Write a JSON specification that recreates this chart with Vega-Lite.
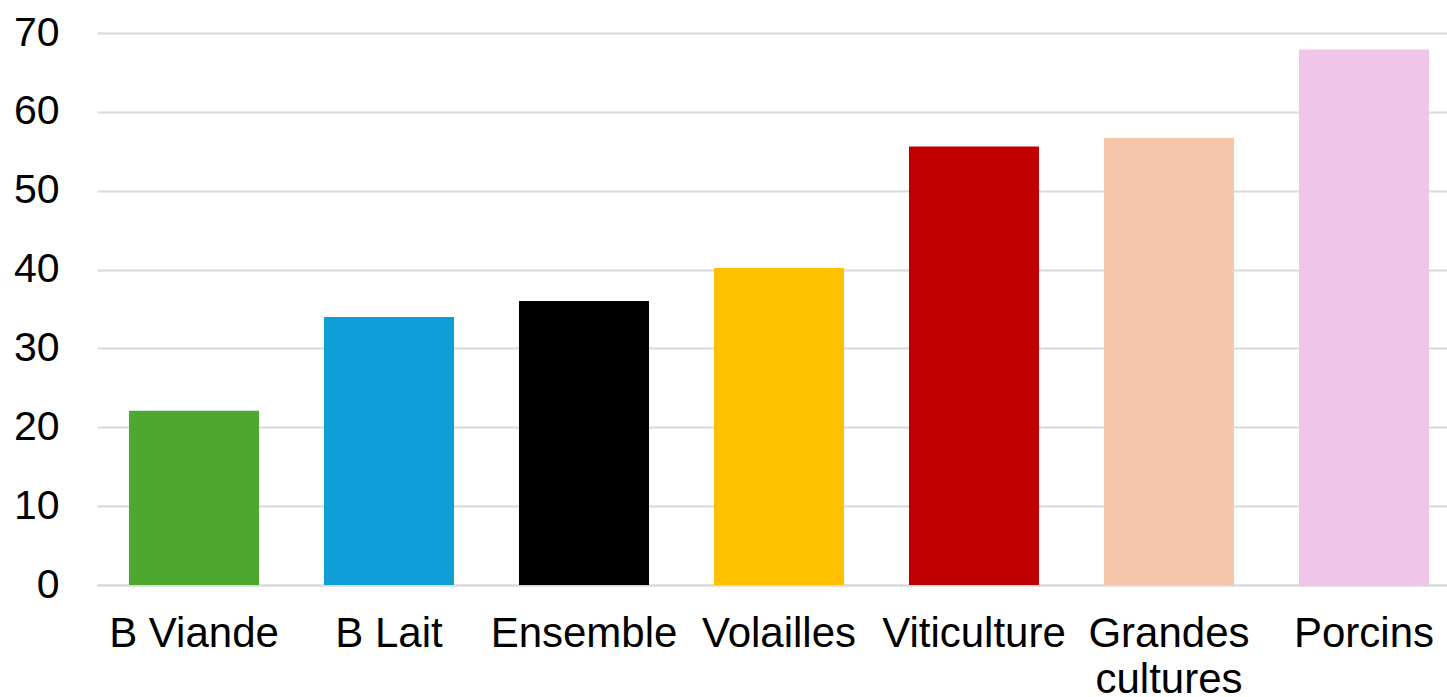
{
  "$schema": "https://vega.github.io/schema/vega-lite/v6.json",
  "autosize": "none",
  "width": 1364,
  "height": 552,
  "padding": {"left": 97, "top": 33, "right": 0, "bottom": 112},
  "background": "white",
  "data": {
    "values": [
      {"cat": "B Viande", "value": 22.1, "color": "#4EA72E"},
      {"cat": "B Lait", "value": 34.0, "color": "#0F9ED5"},
      {"cat": "Ensemble", "value": 36.0, "color": "#000000"},
      {"cat": "Volailles", "value": 40.2, "color": "#FFC000"},
      {"cat": "Viticulture", "value": 55.6, "color": "#C00000"},
      {"cat": "Grandes cultures", "value": 56.7, "color": "#F5C6AC"},
      {"cat": "Porcins", "value": 67.9, "color": "#EFC5E8"}
    ]
  },
  "config": {
    "view": {"stroke": null},
    "font": "Liberation Sans",
    "axis": {"labelFont": "Liberation Sans", "labelColor": "#000000"}
  },
  "mark": {"type": "bar"},
  "encoding": {
    "x": {
      "field": "cat",
      "type": "nominal",
      "sort": null,
      "scale": {"paddingInner": 0.333, "paddingOuter": 0.164},
      "axis": {
        "title": null,
        "labelAngle": 0,
        "labelFontSize": 42,
        "labelPadding": 28,
        "labelLineHeight": 46,
        "labelLimit": 0,
        "ticks": false,
        "domainColor": "#d9d9d9",
        "domainWidth": 2,
        "labelExpr": "datum.label == 'Grandes cultures' ? ['Grandes', 'cultures'] : datum.label"
      }
    },
    "y": {
      "field": "value",
      "type": "quantitative",
      "scale": {"domain": [0, 70]},
      "axis": {
        "title": null,
        "values": [0, 10, 20, 30, 40, 50, 60, 70],
        "labelFontSize": 41,
        "labelPadding": 38,
        "ticks": false,
        "domain": false,
        "gridColor": "#d9d9d9",
        "gridWidth": 2
      }
    },
    "color": {"field": "color", "type": "nominal", "scale": null, "legend": null}
  }
}
